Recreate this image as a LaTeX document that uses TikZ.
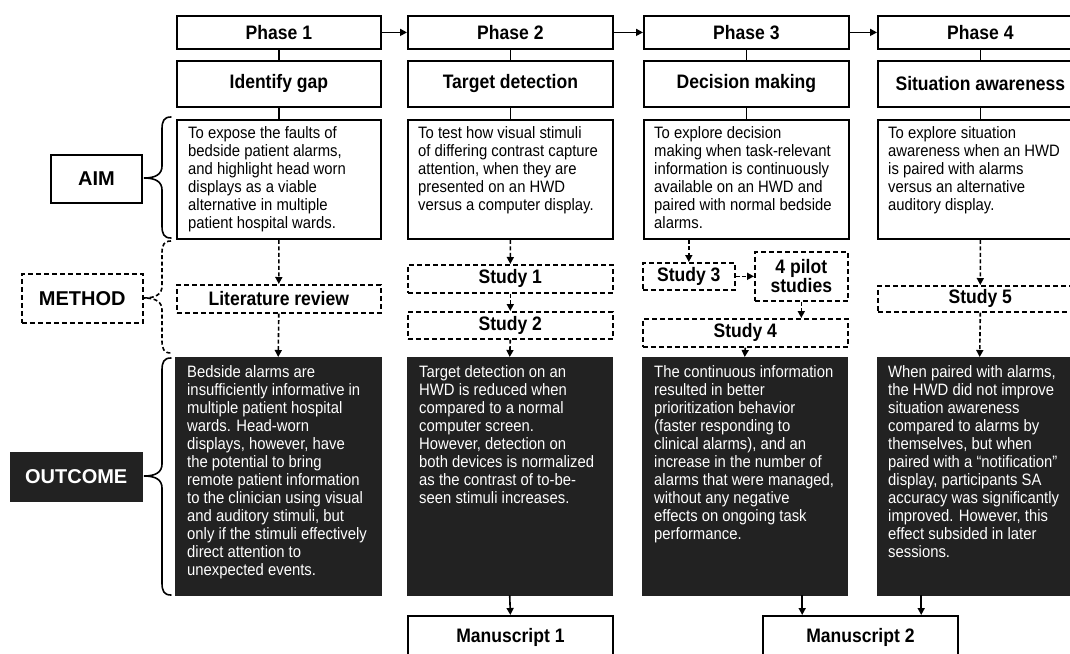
\documentclass[tikz,border=0pt]{standalone}
\usepackage{fontspec}
\setmainfont{Liberation Sans}[FakeStretch=0.9]
\newfontfamily\lblfam{Liberation Sans}
\usetikzlibrary{arrows.meta}
\definecolor{darkfill}{RGB}{34,34,34}
\newcommand\hdfont{\bfseries\fontsize{19.5}{21}\selectfont}
\newcommand\bdfont{\fontsize{16.5}{18}\selectfont}
\newcommand\lbfont{\lblfam\bfseries\fontsize{20}{22}\selectfont}
\newcommand\bodytxt[1]{\parbox[t]{190pt}{\raggedright\bdfont #1}}
\newcommand\drawbrace[4]{%
  \draw[#1] (171,#2) .. controls (164,#2) and (162,#2+4) .. (162,#2+12)
    -- (162,#3-12) .. controls (162,#3-4) and (156,#3) .. (144,#3)
    .. controls (156,#3) and (162,#3+4) .. (162,#3+12)
    -- (162,#4-12) .. controls (162,#4-4) and (164,#4) .. (171,#4);}
\begin{document}
\begin{tikzpicture}[x=1pt,y=-1pt,
  solidbox/.style={draw, line width=1.8pt, inner sep=0pt, anchor=north west, font=\hdfont},
  dashbox/.style={solidbox, line width=1.6pt, dash pattern=on 5pt off 3pt},
  darkbox/.style={fill=darkfill, draw=darkfill, inner sep=0pt, anchor=north west},
  conn/.style={line width=1.6pt},
  arr/.style={conn, -{Triangle[length=7pt,width=7pt]}},
  darr/.style={arr, dash pattern=on 4pt off 2.5pt},
  bodytext/.style={anchor=base west, inner sep=0pt},
  lblbox/.style={solidbox, font=\lbfont},
  bracestyle/.style={line width=1.6pt, line cap=round}]
\useasboundingbox (0,0) rectangle (1070,653);
\fill[white] (0,0) rectangle (1070,653);
\clip (0,0) rectangle (1070,653);

% Phases
\node[solidbox, minimum width=204pt, minimum height=33pt] (p1) at (176,15) {Phase 1};
\node[solidbox, minimum width=205pt, minimum height=33pt] (p2) at (407,15) {Phase 2};
\node[solidbox, minimum width=205pt, minimum height=33pt] (p3) at (643,15) {Phase 3};
\node[solidbox, minimum width=205pt, minimum height=33pt] (p4) at (877,15) {Phase 4};

% Titles
\node[solidbox, minimum width=204pt, minimum height=46pt] (t1) at (176,60) {Identify gap};
\node[solidbox, minimum width=205pt, minimum height=46pt] (t2) at (407,60) {Target detection};
\node[solidbox, minimum width=205pt, minimum height=46pt] (t3) at (643,60) {Decision making};
\node[solidbox, minimum width=205pt, minimum height=46pt] (t4) at (877,60) {Situation awareness};

% Aim boxes
\node[solidbox, minimum width=204pt, minimum height=119pt] (a1) at (176,119) {};
\node[solidbox, minimum width=205pt, minimum height=119pt] (a2) at (407,119) {};
\node[solidbox, minimum width=205pt, minimum height=119pt] (a3) at (643,119) {};
\node[solidbox, minimum width=205pt, minimum height=119pt] (a4) at (877,119) {};
\node[bodytext] (a1t) at ([shift={(12pt,-19pt)}]a1.north west) {\bodytxt{To expose the faults of\\bedside patient alarms,\\and highlight head worn\\displays as a viable\\alternative in multiple\\patient hospital wards.}};
\node[bodytext] (a2t) at ([shift={(11pt,-19pt)}]a2.north west) {\bodytxt{To test how visual stimuli\\of differing contrast capture\\attention, when they are\\presented on an HWD\\versus a computer display.}};
\node[bodytext] (a3t) at ([shift={(11pt,-19pt)}]a3.north west) {\bodytxt{To explore decision\\making when task-relevant\\information is continuously\\available on an HWD and\\paired with normal bedside\\alarms.}};
\node[bodytext] (a4t) at ([shift={(11pt,-19pt)}]a4.north west) {\bodytxt{To explore situation\\awareness when an HWD\\is paired with alarms\\versus an alternative\\auditory display.}};

% Method boxes
\node[dashbox, minimum width=204pt, minimum height=28pt] (lit) at (176,284) {Literature review};
\node[dashbox, minimum width=205pt, minimum height=28pt] (s1) at (407,264) {Study 1};
\node[dashbox, minimum width=205pt, minimum height=27pt] (s2) at (407,311) {Study 2};
\node[dashbox, minimum width=92pt, minimum height=27pt] (s3) at (642,262) {Study 3};
\node[dashbox, minimum width=93pt, minimum height=49pt, align=center] (pil) at (754,251) {4 pilot\\[-2pt]studies};
\node[dashbox, minimum width=205pt, minimum height=28pt] (s4) at (642,318) {Study 4};
\node[dashbox, minimum width=205pt, minimum height=26pt] (s5) at (877,285) {Study 5};

% Outcome boxes
\node[darkbox, minimum width=206pt, minimum height=238pt] (o1) at (175,357) {};
\node[darkbox, minimum width=205pt, minimum height=238pt] (o2) at (407,357) {};
\node[darkbox, minimum width=205pt, minimum height=238pt] (o3) at (642,357) {};
\node[darkbox, minimum width=205pt, minimum height=238pt] (o4) at (877,357) {};
\node[bodytext, text=white] (o1t) at ([shift={(12pt,-20pt)}]o1.north west) {\bodytxt{Bedside alarms are\\insufficiently informative in\\multiple patient hospital\\wards. Head-worn\\displays, however, have\\the potential to bring\\remote patient information\\to the clinician using visual\\and auditory stimuli, but\\only if the stimuli effectively\\direct attention to\\unexpected events.}};
\node[bodytext, text=white] (o2t) at ([shift={(12pt,-20pt)}]o2.north west) {\bodytxt{Target detection on an\\HWD is reduced when\\compared to a normal\\computer screen.\\However, detection on\\both devices is normalized\\as the contrast of to-be-\\seen stimuli increases.}};
\node[bodytext, text=white] (o3t) at ([shift={(12pt,-20pt)}]o3.north west) {\bodytxt{The continuous information\\resulted in better\\prioritization behavior\\(faster responding to\\clinical alarms), and an\\increase in the number of\\alarms that were managed,\\without any negative\\effects on ongoing task\\performance.}};
\node[bodytext, text=white] (o4t) at ([shift={(11pt,-20pt)}]o4.north west) {\bodytxt{When paired with alarms,\\the HWD did not improve\\situation awareness\\compared to alarms by\\themselves, but when\\paired with a “notification”\\display, participants SA\\accuracy was significantly\\improved. However, this\\effect subsided in later\\sessions.}};

% Manuscripts
\node[solidbox, minimum width=205pt, minimum height=44pt] (m1) at (407,615) {Manuscript 1};
\node[solidbox, minimum width=195pt, minimum height=44pt] (m2) at (762,615) {Manuscript 2};

% Row labels
\node[lblbox, minimum width=91pt, minimum height=48pt] (aim) at (50,154) {AIM};
\node[lblbox, line width=1.6pt, dash pattern=on 5pt off 3pt, minimum width=121pt, minimum height=49pt] (meth) at (21,273) {METHOD};
\node[darkbox, font=\lbfont, text=white, minimum width=132pt, minimum height=49pt] (outc) at (10,452) {OUTCOME};

% Braces
\drawbrace{bracestyle}{117}{178}{238}
\drawbrace{bracestyle, line cap=butt, dash pattern=on 4pt off 2.5pt}{241}{298}{353}
\drawbrace{bracestyle}{358}{476}{595}

% Connectors: phases
\draw[arr] (p1.east) -- (p2.west);
\draw[arr] (p2.east) -- (p3.west);
\draw[arr] (p3.east) -- (p4.west);
\foreach \i in {1,2,3,4} {
  \draw[conn] (p\i.south) -- (t\i.north);
  \draw[conn] (t\i.south) -- (a\i.north);
}
% Column 1
\draw[darr] (a1.south) -- (lit.north);
\draw[darr] (lit.south) -- (o1.north);
% Column 2
\draw[darr] (a2.south) -- (s1.north);
\draw[darr] (s1.south) -- (s2.north);
\draw[darr] (s2.south) -- (o2.north);
% Column 3
\draw[darr] (a3.south -| s3.north) -- (s3.north);
\draw[darr] (s3.east) -- (pil.west);
\draw[darr] (pil.south) -- (pil.south |- s4.north);
\draw[darr] (s4.south) -- (o3.north);
% Column 4
\draw[darr] (a4.south) -- (s5.north);
\draw[darr] (s5.south) -- (o4.north);
% Manuscripts
\draw[arr] (o2.south) -- (m1.north);
\draw[arr] ([xshift=57.5pt]o3.south) -- ([xshift=57.5pt]o3.south |- m2.north);
\draw[arr] ([xshift=-58.5pt]o4.south) -- ([xshift=-58.5pt]o4.south |- m2.north);
\end{tikzpicture}
\end{document}
